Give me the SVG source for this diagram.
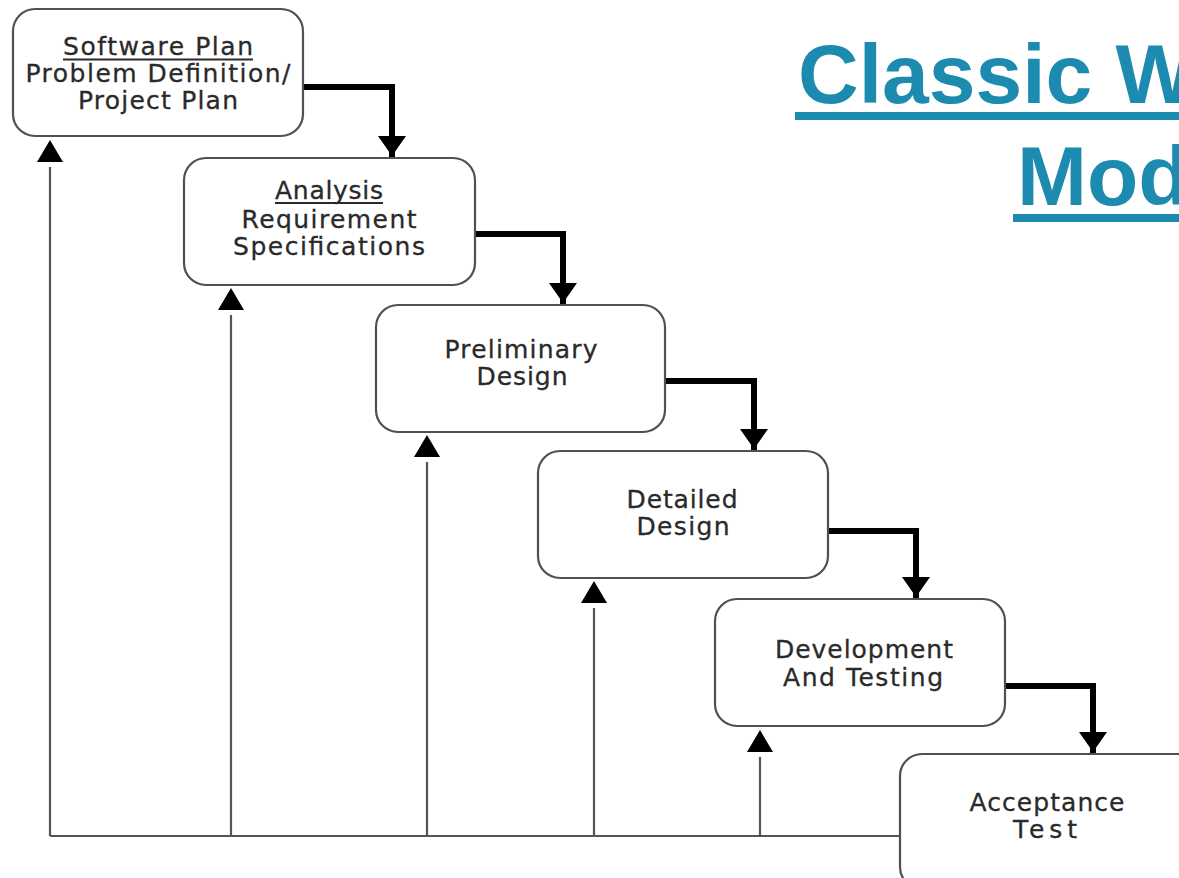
<svg xmlns="http://www.w3.org/2000/svg" width="1179" height="878" viewBox="0 0 1179 878">
<style>
.box{fill:#fff;stroke:#505050;stroke-width:2.2}
.lbl{font-family:"DejaVu Sans",Verdana,sans-serif;font-size:25px;fill:#2a2a2a;stroke:#2a2a2a;stroke-width:0.3;text-anchor:middle}
.ul{stroke:#2a2a2a;stroke-width:2}
.flow{fill:none;stroke:#000;stroke-width:6}
.back{fill:none;stroke:#555;stroke-width:2.2}
.title{font-family:"Liberation Sans",Arial,sans-serif;font-size:84px;font-weight:bold;fill:#1d8bb0}
</style>
<defs>
<marker id="down" markerUnits="userSpaceOnUse" markerWidth="40" markerHeight="40" viewBox="-2 -20 40 40" refX="22" refY="0" orient="auto">
<polygon points="0,-14 0,14 20,0" fill="#000"/>
</marker>
<marker id="up" markerUnits="userSpaceOnUse" markerWidth="40" markerHeight="40" viewBox="0 -20 40 40" refX="0" refY="0" orient="auto">
<polygon points="5,-13 5,13 27,0" fill="#000"/>
</marker>
</defs>
<rect width="1179" height="878" fill="#fff"/>

<g id="title">
<text class="title" x="798" y="103">Classic W</text>
<rect x="795" y="112" width="390" height="8" fill="#1d8bb0"/>
<text class="title" x="1017" y="205">Mod</text>
<rect x="1013" y="214" width="170" height="8" fill="#1d8bb0"/>
</g>

<g id="connectors">
<path class="back" d="M50,836 H900"/>
<path class="back" d="M50,836 V167" marker-end="url(#up)"/>
<path class="back" d="M231,836 V315" marker-end="url(#up)"/>
<path class="back" d="M427,836 V462" marker-end="url(#up)"/>
<path class="back" d="M594,836 V608" marker-end="url(#up)"/>
<path class="back" d="M760,836 V757" marker-end="url(#up)"/>
<path class="flow" d="M303,87 H392 V158" marker-end="url(#down)"/>
<path class="flow" d="M475,234 H563 V305" marker-end="url(#down)"/>
<path class="flow" d="M665,381 H754 V451" marker-end="url(#down)"/>
<path class="flow" d="M828,531 H916 V599" marker-end="url(#down)"/>
<path class="flow" d="M1005,686 H1093 V754" marker-end="url(#down)"/>
</g>

<g id="node-software-plan">
<rect class="box" x="13" y="9" width="290" height="127" rx="22"/>
<text class="lbl" x="158" y="55" textLength="190" lengthAdjust="spacing">Software Plan</text>
<line class="ul" x1="63" y1="59.5" x2="253" y2="59.5"/>
<text class="lbl" x="158" y="82" textLength="265" lengthAdjust="spacing">Problem Definition/</text>
<text class="lbl" x="158" y="109" textLength="160" lengthAdjust="spacing">Project Plan</text>
</g>

<g id="node-analysis">
<rect class="box" x="184" y="158" width="291" height="127" rx="22"/>
<text class="lbl" x="329" y="199" textLength="108" lengthAdjust="spacing">Analysis</text>
<line class="ul" x1="275" y1="203" x2="383" y2="203"/>
<text class="lbl" x="329" y="228" textLength="175" lengthAdjust="spacing">Requirement</text>
<text class="lbl" x="329" y="255" textLength="192" lengthAdjust="spacing">Specifications</text>
</g>

<g id="node-preliminary-design">
<rect class="box" x="376" y="305" width="289" height="127" rx="22"/>
<text class="lbl" x="521" y="358" textLength="153" lengthAdjust="spacing">Preliminary</text>
<text class="lbl" x="522" y="385" textLength="91" lengthAdjust="spacing">Design</text>
</g>

<g id="node-detailed-design">
<rect class="box" x="538" y="451" width="290" height="127" rx="22"/>
<text class="lbl" x="682" y="508" textLength="111" lengthAdjust="spacing">Detailed</text>
<text class="lbl" x="683" y="535" textLength="93" lengthAdjust="spacing">Design</text>
</g>

<g id="node-development">
<rect class="box" x="715" y="599" width="290" height="127" rx="22"/>
<text class="lbl" x="864" y="658" textLength="178" lengthAdjust="spacing">Development</text>
<text class="lbl" x="863" y="686" textLength="160" lengthAdjust="spacing">And Testing</text>
</g>

<g id="node-acceptance-test">
<rect class="box" x="900" y="754" width="300" height="135" rx="22"/>
<text class="lbl" x="1047" y="811" textLength="155" lengthAdjust="spacing">Acceptance</text>
<text class="lbl" x="1045" y="838" textLength="64" lengthAdjust="spacing">Test</text>
</g>
</svg>
